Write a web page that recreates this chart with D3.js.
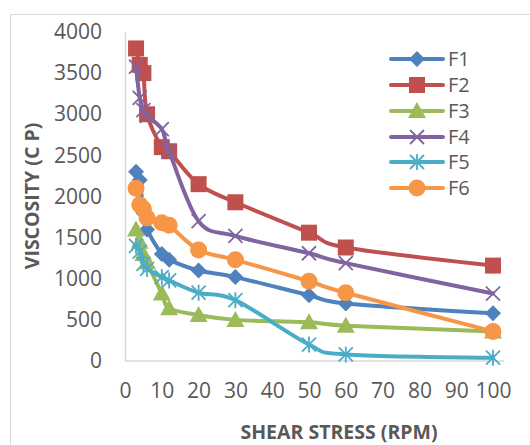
<!DOCTYPE html>
<meta charset="utf-8">
<style>
body{ margin:0; background:#fff; font-family:"Open Sans", sans-serif; }
.tick text{ fill:#595959; font-size:21px; }
.title{ fill:#595959; font-size:19.5px; font-weight:bold; }
.series{ fill:none; stroke-width:4px; stroke-linejoin:round; stroke-linecap:round; }
</style>
<body>
<div id="chart"></div>
<script src="https://d3js.org/d3.v7.min.js"></script>
<script>

var rpm = [3, 4, 5, 6, 10, 12, 20, 30, 50, 60, 100];
var names = ["F1", "F2", "F3", "F4", "F5", "F6"];
var f1 = [2300, 2200, 1800, 1600, 1300, 1230, 1100, 1020, 800, 700, 580];
var f2 = [3800, 3600, 3500, 3000, 2600, 2550, 2150, 1930, 1560, 1380, 1160];
var f3 = [1600, 1450, 1300, 1200, 820, 640, 560, 500, 470, 430, 360];
var f4 = [3580, 3200, 3050, 2980, 2820, 2550, 1700, 1520, 1310, 1190, 820];
var f5 = [1400, 1330, 1180, 1120, 1020, 980, 830, 740, 200, 80, 40];
var f6 = [2100, 1900, 1850, 1740, 1680, 1650, 1350, 1230, 970, 830, 360];
var xTicks = [0, 10, 20, 30, 40, 50, 60, 70, 80, 90, 100];
var yTicks = [0, 500, 1000, 1500, 2000, 2500, 3000, 3500, 4000];

var colors = ["#4F81BD", "#C0504D", "#9BBB59", "#8064A2", "#4BACC6", "#F79646"];
var marks = ["diamond", "square", "triangle", "x", "star", "circle"];
var all = [f1, f2, f3, f4, f5, f6];

var W = 530, H = 445;
var svg = d3.select("#chart").append("svg")
    .attr("width", W).attr("height", H);

// outer chart border
svg.append("rect")
    .attr("x", 10.5).attr("y", 14.5)
    .attr("width", 540).attr("height", 460)
    .attr("fill", "none").attr("stroke", "#d9d9d9");

var x = d3.scaleLinear().domain([0, 100]).range([125, 493]);
var y = d3.scaleLinear().domain([0, 4000]).range([361, 32]);

var yAxis = svg.append("g")
    .attr("transform", "translate(125,0)")
    .call(d3.axisLeft(y).tickValues(yTicks).tickFormat(d3.format("d")).tickSize(0).tickPadding(23));
yAxis.select(".domain").attr("stroke", "#d9d9d9").attr("stroke-width", 1.5);

var xAxis = svg.append("g")
    .attr("transform", "translate(0,361)")
    .call(d3.axisBottom(x).tickValues(xTicks).tickFormat(d3.format("d")).tickSize(0).tickPadding(22));
xAxis.select(".domain").remove();
xAxis.append("line")
    .attr("x1", 125).attr("x2", 504)
    .attr("stroke", "#d9d9d9").attr("stroke-width", 1.5);
svg.selectAll(".tick text").attr("font-family", "Open Sans");

svg.append("text").attr("class", "title")
    .attr("x", 339).attr("y", 439)
    .attr("text-anchor", "middle")
    .text("SHEAR STRESS (RPM)");
svg.append("text").attr("class", "title")
    .attr("transform", "translate(39,196) rotate(-90)")
    .attr("text-anchor", "middle")
    .text("VISCOSITY (C P)");

function drawMark(g, type, c, cx, cy) {
  if (type == "diamond") {
    g.append("path").attr("d", "M" + cx + "," + (cy - 8) + "L" + (cx + 8) + "," + cy +
      "L" + cx + "," + (cy + 8) + "L" + (cx - 8) + "," + cy + "Z").attr("fill", c);
  } else if (type == "square") {
    g.append("rect").attr("x", cx - 8).attr("y", cy - 8)
      .attr("width", 16).attr("height", 16).attr("fill", c);
  } else if (type == "triangle") {
    g.append("path").attr("d", "M" + cx + "," + (cy - 9) + "L" + (cx + 9) + "," + (cy + 7) +
      "L" + (cx - 9) + "," + (cy + 7) + "Z").attr("fill", c);
  } else if (type == "circle") {
    g.append("circle").attr("cx", cx).attr("cy", cy).attr("r", 8.5).attr("fill", c);
  } else {
    var s = 7;
    g.append("path").attr("d", "M" + (cx - s) + "," + (cy - s) + "L" + (cx + s) + "," + (cy + s) +
      "M" + (cx - s) + "," + (cy + s) + "L" + (cx + s) + "," + (cy - s) +
      (type == "star" ? "M" + cx + "," + (cy - s - 1) + "L" + cx + "," + (cy + s + 1) : ""))
      .attr("stroke", c).attr("stroke-width", 1.8).attr("fill", "none");
  }
}

var line = d3.line()
    .x(function(d) { return x(d[0]); })
    .y(function(d) { return y(d[1]); })
    .curve(d3.curveCardinal.tension(0));

all.forEach(function(vals, i) {
  var pts = rpm.map(function(r, j) { return [r, vals[j]]; });
  var g = svg.append("g");
  g.append("path").attr("class", "series")
    .attr("d", line(pts)).attr("stroke", colors[i]);
  pts.forEach(function(p) { drawMark(g, marks[i], colors[i], x(p[0]), y(p[1])); });
});

// legend
var legY = [59, 85, 111, 137, 162, 188];
names.forEach(function(n, i) {
  var g = svg.append("g");
  g.append("line").attr("x1", 391).attr("x2", 443)
    .attr("y1", legY[i]).attr("y2", legY[i])
    .attr("stroke", colors[i]).attr("stroke-width", 4).attr("stroke-linecap", "round");
  drawMark(g, marks[i], colors[i], 417, legY[i]);
  g.append("text").attr("x", 448).attr("y", legY[i] + 7)
    .attr("fill", "#595959").attr("font-size", "20px")
    .text(n);
});

</script>
</body>
